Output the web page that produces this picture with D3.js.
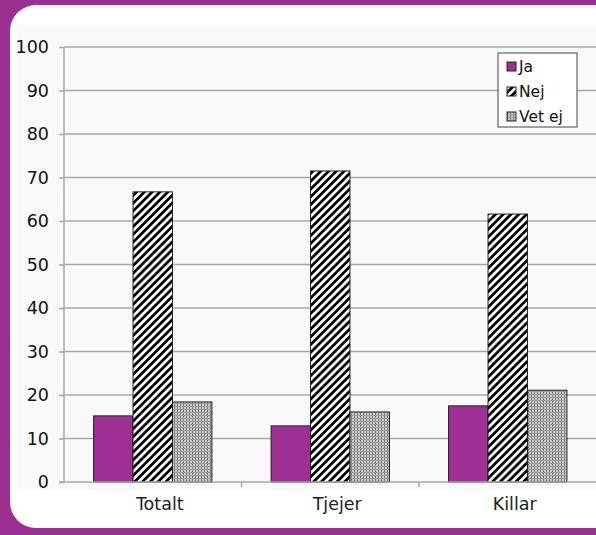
<!DOCTYPE html>
<html><head><meta charset="utf-8">
<script src="https://cdn.jsdelivr.net/npm/d3@7"></script>
<style>html,body{margin:0;padding:0;background:#9b2f92;}svg{display:block;}</style>
</head><body>
<svg id="c" width="596" height="535"></svg>
<script>
const categories = ["Totalt", "Tjejer", "Killar"];
const seriesNames = ["Ja", "Nej", "Vet ej"];
const ja = [15.2, 12.9, 17.5];
const nej = [66.7, 71.5, 61.6];
const vetej = [18.4, 16.1, 21.1];
const yTicks = [0, 10, 20, 30, 40, 50, 60, 70, 80, 90, 100];

const seriesValues = [ja, nej, vetej];
const svg = d3.select("#c");
const W = 596, H = 535;
const font = "DejaVu Sans, Verdana, sans-serif";

// background panel
svg.append("rect").attr("width", W).attr("height", H).attr("fill", "#9b2f92");
svg.append("rect").attr("x", 10).attr("y", 5).attr("width", 620).attr("height", 523).attr("rx", 26).attr("fill", "#ffffff");
svg.append("rect").attr("x", 17).attr("y", 25).attr("width", 579).attr("height", 465).attr("fill", "#f9f9f9");

const defs = svg.append("defs");
const p1 = defs.append("pattern").attr("id", "stripes").attr("patternUnits", "userSpaceOnUse")
  .attr("width", 5.5).attr("height", 5.5).attr("patternTransform", "rotate(45)");
p1.append("rect").attr("width", 5.5).attr("height", 5.5).attr("fill", "#fff");
p1.append("rect").attr("width", 2.75).attr("height", 5.5).attr("fill", "#000");

const p2 = defs.append("pattern").attr("id", "dots").attr("patternUnits", "userSpaceOnUse")
  .attr("width", 3).attr("height", 3);
p2.append("rect").attr("width", 3).attr("height", 3).attr("fill", "#c8c8c8");
p2.append("rect").attr("width", 1).attr("height", 3).attr("fill", "#7e7e7e");
p2.append("rect").attr("y", 1).attr("width", 3).attr("height", 1).attr("fill", "#9c9c9c");

const fills = ["#9e2f93", "url(#stripes)", "url(#dots)"];

const x0 = d3.scaleBand().domain(categories).range([64, 596.5]).paddingInner(0).paddingOuter(0);
const x1 = d3.scaleBand().domain(seriesNames).range([0, x0.bandwidth()]).paddingOuter(0.75).paddingInner(0);
const y = d3.scaleLinear().domain([0, 100]).range([482, 47]);

// gridlines
svg.append("g").selectAll("line").data(yTicks.filter(d => d > 0)).join("line")
  .attr("x1", 64).attr("x2", 596).attr("y1", d => y(d)).attr("y2", d => y(d))
  .attr("stroke", "#a8a8a8").attr("stroke-width", 1.5);

// bars
const g = svg.append("g");
categories.forEach((c, ci) => {
  seriesNames.forEach((s, si) => {
    const v = seriesValues[si][ci];
    g.append("rect")
      .attr("x", x0(c) + x1(s)).attr("width", x1.bandwidth())
      .attr("y", y(v)).attr("height", y(0) - y(v))
      .attr("fill", fills[si]).attr("stroke", "#222").attr("stroke-width", 1);
  });
});

// y axis
const yAxis = d3.axisLeft(y).tickValues(yTicks).tickSize(5).tickPadding(10);
const ya = svg.append("g").attr("transform", "translate(64,0)").call(yAxis);
ya.select(".domain").attr("stroke", "#a8a8a8").attr("stroke-width", 1.5).attr("d", "M0,47V482");
ya.selectAll(".tick line").attr("stroke", "#a8a8a8").attr("stroke-width", 1.5);
ya.selectAll("text").attr("font-family", font).attr("font-size", 17.5).attr("fill", "#111");

// x axis
const xAxis = d3.axisBottom(x0).tickSize(0).tickPadding(16);
const xa = svg.append("g").attr("transform", "translate(0,482)").call(xAxis);
xa.select(".domain").attr("stroke", "#a8a8a8").attr("stroke-width", 1.5).attr("d", "M59,0H596");
xa.selectAll("text").attr("font-family", font).attr("font-size", 17.5).attr("fill", "#222").attr("dx", 7);
xa.selectAll(".sep").data(categories.slice(1)).join("line").attr("class", "sep")
  .attr("x1", d => x0(d)).attr("x2", d => x0(d)).attr("y1", 0).attr("y2", 5)
  .attr("stroke", "#a8a8a8").attr("stroke-width", 1.5);

// legend
const lg = svg.append("g").attr("transform", "translate(498,53)");
lg.append("rect").attr("width", 79).attr("height", 74).attr("fill", "#fff").attr("stroke", "#444").attr("stroke-width", 1);
seriesNames.forEach((s, i) => {
  const yy = 14 + i * 25;
  lg.append("rect").attr("x", 9).attr("y", yy - 5).attr("width", 9).attr("height", 9)
    .attr("fill", fills[i]).attr("stroke", "#222").attr("stroke-width", 1);
  lg.append("text").attr("x", 21).attr("y", yy).attr("dy", "0.35em")
    .attr("font-family", font).attr("font-size", 15.5).attr("fill", "#111").text(s);
});
</script>
</body></html>
